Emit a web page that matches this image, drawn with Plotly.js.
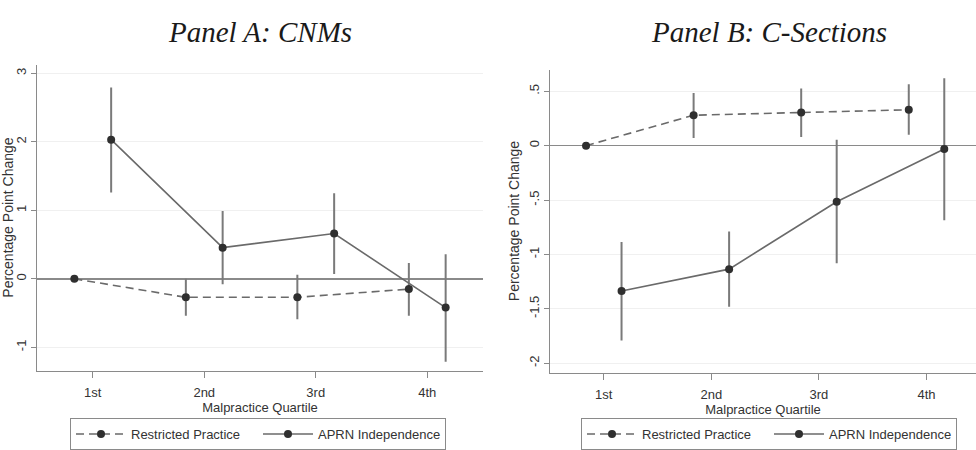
<!DOCTYPE html>
<html>
<head>
<meta charset="utf-8">
<script src="https://cdn.plot.ly/plotly-3.0.1.min.js"></script>
<style>
  html, body { margin: 0; padding: 0; background: #fff; }
  #chart { width: 976px; height: 450px; }
</style>
</head>
<body>
<div id="chart"></div>
<script>
// Malpractice quartiles on the horizontal axis
const quartiles = ['1st', '2nd', '3rd', '4th'];
const quartilePos = [1, 2, 3, 4];

// Panel A: CNMs (percentage point change, estimate with 95% CI)
const cnmRestrictedEst = [0, -0.27, -0.27, -0.15];
const cnmRestrictedLo  = [0, -0.54, -0.59, -0.54];
const cnmRestrictedHi  = [0, 0.00, 0.06, 0.23];
const cnmAprnEst = [2.03, 0.455, 0.66, -0.42];
const cnmAprnLo  = [1.26, -0.08, 0.07, -1.21];
const cnmAprnHi  = [2.79, 0.99, 1.25, 0.36];

// Panel B: C-Sections
const csRestrictedEst = [0, 0.28, 0.305, 0.33];
const csRestrictedLo  = [0, 0.07, 0.08, 0.10];
const csRestrictedHi  = [0, 0.485, 0.525, 0.565];
const csAprnEst = [-1.335, -1.135, -0.515, -0.03];
const csAprnLo  = [-1.79, -1.48, -1.08, -0.685];
const csAprnHi  = [-0.885, -0.79, 0.055, 0.62];

// Y tick labels in Stata style (no leading zero)
const cnmTickVals = [-1, 0, 1, 2, 3];
const cnmTickText = ['-1', '0', '1', '2', '3'];
const csTickVals = [0.5, 0, -0.5, -1, -1.5, -2];
const csTickText = ['.5', '0', '-.5', '-1', '-1.5', '-2'];

const seriesNames = ['Restricted Practice', 'APRN Independence'];

// Horizontal dodge so the two series do not overlap
const DODGE = 0.165;
const W = 976, H = 450;
const SANS = 'Liberation Sans, Arial, sans-serif';
const LINE_COL = '#6a6a6a';
const MARK_COL = '#2f2f2f';
const CI_COL = '#7a7a7a';
const AXIS_COL = '#8a8a8a';

function makeTrace(est, lo, hi, name, dashed, shift, xa, ya, legendId) {
  return {
    type: 'scatter',
    mode: 'lines+markers',
    name: name,
    x: quartilePos.map(q => q + shift),
    y: est,
    xaxis: xa,
    yaxis: ya,
    legend: legendId,
    line: { color: LINE_COL, width: 1.6, dash: dashed ? '8px,5px' : 'solid' },
    marker: { color: MARK_COL, size: 8 },
    error_y: {
      type: 'data',
      symmetric: false,
      array: hi.map((h, i) => h - est[i]),
      arrayminus: est.map((e, i) => e - lo[i]),
      color: CI_COL,
      thickness: 2,
      width: 0
    },
    hoverinfo: 'x+y'
  };
}

const traces = [
  makeTrace(cnmRestrictedEst, cnmRestrictedLo, cnmRestrictedHi, seriesNames[0], true, -DODGE, 'x', 'y', 'legend'),
  makeTrace(cnmAprnEst, cnmAprnLo, cnmAprnHi, seriesNames[1], false, DODGE, 'x', 'y', 'legend'),
  makeTrace(csRestrictedEst, csRestrictedLo, csRestrictedHi, seriesNames[0], true, -DODGE, 'x2', 'y2', 'legend2'),
  makeTrace(csAprnEst, csAprnLo, csAprnHi, seriesNames[1], false, DODGE, 'x2', 'y2', 'legend2')
];

const tickFont = { family: SANS, size: 13, color: '#333' };

function xAxis(domain, range, anchor) {
  return {
    domain: domain, range: range, anchor: anchor,
    tickmode: 'array', tickvals: quartilePos, ticktext: quartiles,
    ticks: 'outside', ticklen: 6, tickcolor: AXIS_COL, tickwidth: 1,
    ticklabelstandoff: 4,
    showline: true, linecolor: AXIS_COL, linewidth: 1,
    showgrid: false, zeroline: false,
    tickfont: tickFont,
    title: { text: 'Malpractice Quartile', font: tickFont, standoff: 2 },
    automargin: false, fixedrange: true
  };
}

function yAxis(domain, range, anchor, vals, text) {
  return {
    domain: domain, range: range, anchor: anchor,
    tickmode: 'array', tickvals: vals, ticktext: text,
    tickangle: -90,
    ticks: 'outside', ticklen: 5, tickcolor: AXIS_COL, tickwidth: 1,
    showline: true, linecolor: AXIS_COL, linewidth: 1,
    showgrid: true, gridcolor: '#f0f0f0', gridwidth: 1,
    zeroline: true, zerolinecolor: '#8a8a8a', zerolinewidth: 1.6,
    tickfont: tickFont,
    title: { text: 'Percentage Point Change', font: { family: SANS, size: 14, color: '#333' }, standoff: 3 },
    automargin: false, fixedrange: true
  };
}

function legendBox(xPx) {
  return {
    orientation: 'h',
    x: xPx / W, xanchor: 'left',
    y: 1 - 421 / H, yanchor: 'top',
    bordercolor: AXIS_COL, borderwidth: 1,
    bgcolor: '#fff',
    font: { family: SANS, size: 13, color: '#333' },
    itemwidth: 50,
    entrywidth: 122,
    itemclick: false, itemdoubleclick: false
  };
}

const layout = {
  width: W, height: H,
  margin: { l: 0, r: 0, t: 0, b: 0 },
  paper_bgcolor: '#fff',
  plot_bgcolor: '#fff',
  showlegend: true,
  xaxis: xAxis([37 / W, 483 / W], [0.5, 4.5], 'y'),
  yaxis: yAxis([1 - 373 / H, 1 - 65 / H], [-1.338, 3.126], 'x', cnmTickVals, cnmTickText),
  xaxis2: xAxis([550 / W, 1], [0.5, 4.46], 'y2'),
  yaxis2: yAxis([1 - 375 / H, 1 - 70 / H], [-2.085, 0.70], 'x2', csTickVals, csTickText),
  legend: legendBox(70),
  legend2: legendBox(581),
  annotations: [
    { text: 'Panel A: CNMs', x: 260 / W, y: 1 - 32 / H, xref: 'paper', yref: 'paper',
      xanchor: 'center', yanchor: 'middle', showarrow: false,
      font: { family: 'Liberation Serif, Times New Roman, serif', size: 29, color: '#1a1a1a', style: 'italic' } },
    { text: 'Panel B: C-Sections', x: 769 / W, y: 1 - 32 / H, xref: 'paper', yref: 'paper',
      xanchor: 'center', yanchor: 'middle', showarrow: false,
      font: { family: 'Liberation Serif, Times New Roman, serif', size: 29, color: '#1a1a1a', style: 'italic' } }
  ]
};

Plotly.newPlot('chart', traces, layout, { displayModeBar: false, staticPlot: true });
</script>
</body>
</html>
